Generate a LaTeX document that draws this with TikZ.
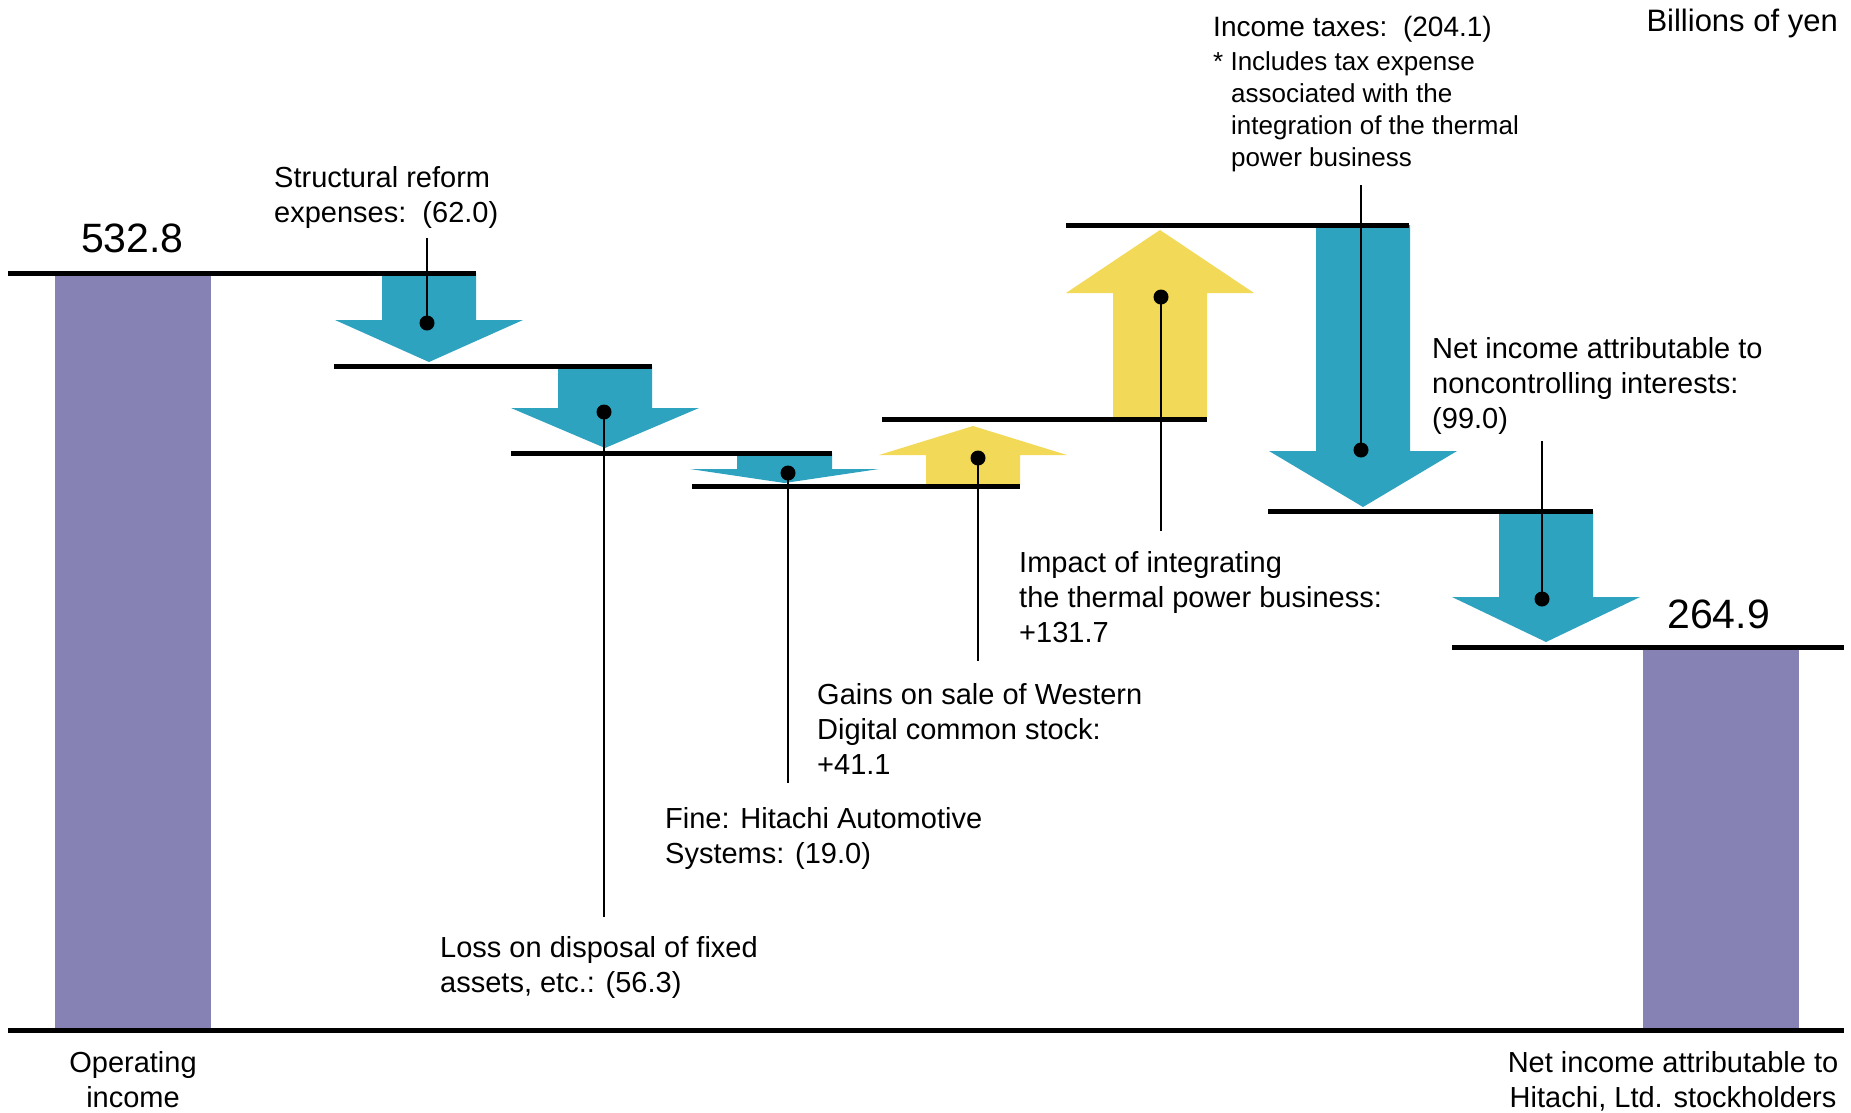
\documentclass[tikz,border=0pt]{standalone}
\usepackage{fontspec}
\setmainfont{Liberation Sans}
\definecolor{barpurple}{HTML}{8682B3}
\definecolor{arrowblue}{HTML}{2EA3C0}
\definecolor{arrowyellow}{HTML}{F3D958}
% color, shaft left, shaft right, start y, head base y, tip y
\newcommand{\wfarrow}[6]{\fill[#1] (#2,#4) -- (#3,#4) -- (#3,#5) -- ({#3+47},#5) -- ({(#2+#3)/2},#6) -- ({#2-47},#5) -- (#2,#5) -- cycle;}
\begin{document}
\begin{tikzpicture}[x=1pt,y=-1pt,
  hline/.style={line width=5pt},
  leader/.style={line width=2.4pt},
  dot/.style={circle,fill=black,inner sep=0pt,minimum size=15pt},
  lbl/.style={inner sep=0pt,align=left,font=\fontsize{29}{35}\selectfont},
  head/.style={inner sep=0pt,align=left,font=\fontsize{28}{35}\selectfont},
  note/.style={inner sep=0pt,align=left,font=\fontsize{26}{32}\selectfont},
  big/.style={inner sep=0pt,font=\fontsize{41}{41}\selectfont}]
\useasboundingbox (0,0) rectangle (1851,1112);
\fill[white] (0,0) rectangle (1851,1112);
% bars
\fill[barpurple] (55,273) rectangle (211,1030);
\fill[barpurple] (1643,647) rectangle (1799,1030);
% arrows
\wfarrow{arrowblue}{382}{476}{273}{320}{362}
\wfarrow{arrowblue}{558}{652}{366}{408}{448}
\wfarrow{arrowblue}{737}{832}{453}{469}{483}
\wfarrow{arrowyellow}{926}{1020}{486}{455}{426}
\wfarrow{arrowyellow}{1113}{1207}{419}{293}{230}
\wfarrow{arrowblue}{1316}{1410}{225}{451}{507}
\wfarrow{arrowblue}{1499}{1593}{511}{597}{642}
% level lines
\draw[hline] (8,273) -- (476,273);
\draw[hline] (334,366) -- (652,366);
\draw[hline] (511,453) -- (832,453);
\draw[hline] (692,486) -- (1020,486);
\draw[hline] (882,419) -- (1207,419);
\draw[hline] (1066,225) -- (1409,225);
\draw[hline] (1268,511) -- (1593,511);
\draw[hline] (1452,647) -- (1844,647);
\draw[hline] (8,1030) -- (1844,1030);
% dots and leaders
\node[dot] (d1) at (427,323) {};
\node[dot] (d2) at (604,412) {};
\node[dot] (d3) at (788,473) {};
\node[dot] (d4) at (978,458) {};
\node[dot] (d5) at (1161,297) {};
\node[dot] (d6) at (1361,450) {};
\node[dot] (d7) at (1542,599) {};
\coordinate (e1) at (427,238);
\coordinate (e2) at (604,917);
\coordinate (e3) at (788,783);
\coordinate (e4) at (978,661);
\coordinate (e5) at (1161,531);
\coordinate (e6) at (1361,185);
\coordinate (e7) at (1542,441);
\foreach \i in {1,...,7} \draw[leader] (d\i.center) -- (e\i);
% values
\node[big,anchor=base west] (v1) at (81,252) {532.8};
\node[big,anchor=base west] (v2) at (1667,628) {264.9};
% labels (anchored at the baseline of their last line)
\node[lbl,anchor=base west] (t1) at (274,222) {Structural reform\\expenses:~~(62.0)};
\node[lbl,anchor=base west] (t2) at (440,992) {Loss on disposal of fixed\\assets, etc.: (56.3)};
\node[lbl,anchor=base west] (t3) at (665,863) {Fine: Hitachi Automotive\\Systems: (19.0)};
\node[lbl,anchor=base west] (t4) at (817,774) {Gains on sale of Western\\Digital common stock:\\+41.1};
\node[lbl,anchor=base west] (t5) at (1019,642) {Impact of integrating\\the thermal power business:\\+131.7};
\node[lbl,anchor=base west] (t6) at (1432,428) {Net income attributable to\\noncontrolling interests:\\(99.0)};
\node[head,anchor=base west] (t7) at (1213,36) {Income taxes:~~(204.1)};
\node[note,anchor=base west] (t8) at (1213,70) {* Includes tax expense};
\node[note,anchor=base west] (t9) at (1231,166) {associated with the\\integration of the thermal\\power business};
\node[inner sep=0pt,font=\fontsize{31}{35}\selectfont,anchor=base east] (unit) at (1838,31) {Billions of yen};
\node[lbl,align=center,anchor=base] (c1) at (133,1107) {Operating\\income};
\node[lbl,align=center,anchor=base] (c2) at (1673,1107) {Net income attributable to\\Hitachi, Ltd. stockholders};
\end{tikzpicture}
\end{document}
